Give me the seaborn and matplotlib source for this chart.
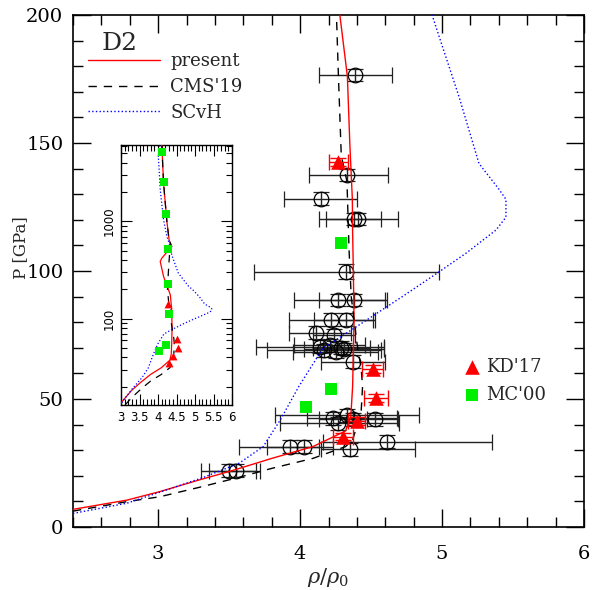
import matplotlib
matplotlib.use("Agg")
import matplotlib.pyplot as plt
import seaborn as sns
from matplotlib.ticker import MultipleLocator, FixedLocator, LogLocator, NullFormatter

# EOS curves: compression rho/rho0 vs pressure P [GPa]
present_rho = [2.4, 2.78, 3.01, 3.29, 3.52, 3.80, 4.09, 4.32, 4.357, 4.37, 4.38, 4.375,
               4.37, 4.368, 4.35, 4.333, 4.28, 4.15, 4.06, 4.10, 4.37, 4.30, 4.24, 4.15, 4.10]
present_p = [6.9, 10.5, 13.8, 18.4, 22.0, 26.8, 31.4, 37.5, 43.0, 55.0, 81.0, 100.0,
             115.0, 128.0, 150.0, 176.0, 200.0, 272.0, 388.0, 418.0, 553.0, 646.0, 1000.0, 2480.0, 6500.0]

cms_rho = [2.4, 2.78, 3.01, 3.29, 3.57, 3.80, 4.09, 4.32, 4.37, 4.43, 4.44, 4.43, 4.40,
           4.36, 4.345, 4.33, 4.29, 4.27, 4.256, 4.28, 4.31, 4.37, 4.30, 4.24, 4.15, 4.10]
cms_p = [6.2, 9.9, 11.8, 15.5, 19.4, 22.9, 26.8, 31.4, 34.0, 45.0, 55.0, 62.0, 72.0,
         90.0, 108.0, 135.0, 145.0, 176.0, 200.0, 300.0, 450.0, 553.0, 646.0, 1000.0, 2480.0, 6500.0]

scvh_rho = [2.4, 2.78, 3.06, 3.32, 3.57, 3.74, 3.86, 3.99, 4.16, 4.39, 4.72, 4.98, 5.17,
            5.38, 5.45, 5.45, 5.40, 5.26, 5.12, 4.98, 4.93, 4.83, 4.55, 4.37, 4.33, 4.24,
            4.15, 4.06, 4.01, 4.06]
scvh_p = [5.3, 9.3, 14.5, 19.4, 24.9, 31.4, 41.8, 54.8, 69.8, 78.0, 90.0, 99.7, 107.0,
          116.0, 121.0, 128.0, 132.0, 142.0, 168.0, 191.5, 200.0, 215.0, 294.0, 455.0, 553.0, 701.0,
          1040.0, 2120.0, 4660.0, 6500.0]

# open circles with error bars
circ_rho = [4.39, 4.33, 4.15, 4.38, 4.41, 4.32, 4.27, 4.38, 4.22, 4.32, 4.11, 4.24,
            4.14, 4.17, 4.21, 4.25, 4.29, 4.31, 4.37, 4.33, 4.27, 4.23, 4.37, 4.53,
            4.35, 4.615, 3.93, 4.03, 3.50, 3.55]
circ_p = [176.6, 137.5, 128.3, 120.3, 120.3, 99.7, 88.7, 88.7, 80.9, 80.9, 75.9, 75.0,
          70.5, 69.0, 71.0, 68.5, 70.0, 69.5, 64.6, 43.7, 40.5, 42.5, 42.0, 42.0,
          30.3, 33.3, 31.4, 31.4, 22.0, 22.0]
circ_xlo = [0.26, 0.27, 0.26, 0.25, 0.225, 0.645, 0.31, 0.25, 0.30, 0.22, 0.19, 0.15,
            0.45, 0.40, 0.25, 0.30, 0.20, 0.28, 0.22, 0.51, 0.41, 0.18, 0.24, 0.16,
            0.20, 0.455, 0.36, 0.26, 0.20, 0.19]
circ_xhi = [0.255, 0.29, 0.25, 0.31, 0.16, 0.66, 0.33, 0.23, 0.31, 0.19, 0.25, 0.15,
            0.45, 0.40, 0.25, 0.30, 0.20, 0.28, 0.23, 0.51, 0.43, 0.45, 0.10, 0.16,
            0.46, 0.735, 0.20, 0.20, 0.22, 0.14]
circ_perr = [2.5, 2.5, 2.5, 2.5, 2.5, 3.0, 2.5, 2.5, 2.5, 2.5, 2.5, 2.5,
             2.5, 2.5, 2.5, 2.5, 2.5, 2.5, 2.5, 2.5, 2.5, 2.5, 2.5, 2.5,
             2.5, 2.5, 2.5, 2.5, 2.5, 2.5]

# KD'17
kd_rho = [4.27, 4.51, 4.533, 4.40, 4.30]
kd_p = [142.7, 61.6, 50.3, 41.5, 35.3]
kd_xerr = [0.07, 0.075, 0.085, 0.06, 0.07]
kd_perr = [1.5, 1.5, 1.5, 1.5, 1.5]

# MC'00
mc_rho = [4.10, 4.15, 4.22, 4.27, 4.28, 4.29, 4.216, 4.04]
mc_p = [5120.0, 2540.0, 1200.0, 520.0, 227.0, 111.0, 53.9, 47.0]

sns.set_style("ticks")
plt.rcParams["font.family"] = ["DejaVu Serif"]
plt.rcParams["mathtext.fontset"] = "dejavuserif"

RED = "#ff0000"
BLUE = "#0000ff"
GREEN = "#00ee00"

fig = plt.figure(figsize=(5.94, 5.90), dpi=100)
ax = fig.add_axes([73 / 594, 63 / 590, 511 / 594, 512 / 590])


def draw_curves(a, lw=1.0):
    sns.lineplot(x=present_rho, y=present_p, sort=False, estimator=None, color=RED,
                 lw=lw, ax=a, zorder=3)
    sns.lineplot(x=cms_rho, y=cms_p, sort=False, estimator=None, color="black",
                 lw=lw, dashes=False, ax=a, zorder=3)
    a.lines[-1].set_dashes((6, 5))
    sns.lineplot(x=scvh_rho, y=scvh_p, sort=False, estimator=None, color=BLUE,
                 lw=lw, ax=a, zorder=3)
    a.lines[-1].set_linestyle(":")
    return a.lines[-3:]


h_present, h_cms, h_scvh = draw_curves(ax)

ax.errorbar(circ_rho, circ_p, xerr=[circ_xlo, circ_xhi], yerr=circ_perr, fmt="o",
            ms=10.5, mfc="none", mec="black", mew=0.9, ecolor="#222222", elinewidth=1.0,
            capsize=5.5, capthick=1.0, zorder=2)
ax.errorbar(kd_rho, kd_p, xerr=kd_xerr, yerr=kd_perr, fmt="none", ecolor=RED,
            elinewidth=1.0, capsize=5.5, capthick=1.0, zorder=4)
sns.scatterplot(x=kd_rho, y=kd_p, marker="^", color=RED, s=110, linewidth=0,
                ax=ax, zorder=5, label="KD'17")
sns.scatterplot(x=mc_rho, y=mc_p, marker="s", color=GREEN, s=80, linewidth=0,
                ax=ax, zorder=5, label="MC'00")
h_kd, h_mc = ax.collections[-2], ax.collections[-1]

ax.set_xlim(2.4, 6)
ax.set_ylim(0, 200)
ax.xaxis.set_major_locator(FixedLocator([3, 4, 5, 6]))
ax.xaxis.set_minor_locator(MultipleLocator(0.2))
ax.yaxis.set_major_locator(MultipleLocator(50))
ax.yaxis.set_minor_locator(MultipleLocator(10))
ax.tick_params(which="both", direction="in", top=True, right=True, width=1.0,
               labelsize=14, colors="black")
ax.tick_params(which="major", length=13)
ax.tick_params(which="minor", length=7)
ax.tick_params(axis="x", which="major", pad=13)
ax.tick_params(axis="y", which="major", pad=7)
for s in ax.spines.values():
    s.set_linewidth(1.2)
    s.set_color("black")
ax.set_xlabel(r"$\rho/\rho_0$", fontsize=15, labelpad=2)
ax.set_ylabel("P [GPa]", fontsize=12)
ax.yaxis.set_label_coords(-0.086, 0.545)

leg1 = ax.legend(handles=[h_present, h_cms, h_scvh], labels=["present", "CMS'19", "SCvH"],
                 loc="upper left", bbox_to_anchor=(15 / 511, 0.927), frameon=False,
                 fontsize=13, handlelength=4.0, handletextpad=0.55, labelspacing=0.42,
                 borderpad=0, borderaxespad=0)
ax.add_artist(leg1)
ax.text(0.092, 0.945, "D2", transform=ax.transAxes, fontsize=18, ha="center", va="center")
ax.legend(handles=[h_kd, h_mc], labels=["KD'17", "MC'00"], loc="upper left",
          bbox_to_anchor=(0.766, 0.33), frameon=False, fontsize=13, handlelength=0.8,
          handletextpad=0.4, labelspacing=0.55, borderpad=0, borderaxespad=0)

# inset: log pressure
axin = fig.add_axes([121 / 594, 185 / 590, 111 / 594, 260 / 590])
draw_curves(axin, lw=0.9)
sns.scatterplot(x=kd_rho, y=kd_p, marker="^", color=RED, s=32, linewidth=0,
                ax=axin, zorder=5)
sns.scatterplot(x=mc_rho, y=mc_p, marker="s", color=GREEN, s=30, linewidth=0,
                ax=axin, zorder=5)
axin.set_yscale("log")
axin.set_xlim(3, 6)
axin.set_ylim(13, 6100)
axin.set_xticks([3, 3.5, 4, 4.5, 5, 5.5, 6])
axin.set_xticklabels(["3", "3.5", "4", "4.5", "5", "5.5", "6"], family="DejaVu Sans",
                     fontsize=8.5)
axin.xaxis.set_minor_locator(MultipleLocator(0.1))
axin.set_yticks([100, 1000])
axin.set_yticklabels(["100", "1000"], family="DejaVu Sans", fontsize=8.5, rotation=90,
                     va="center")
axin.yaxis.set_minor_locator(LogLocator(base=10, subs=range(2, 10)))
axin.yaxis.set_minor_formatter(NullFormatter())
axin.tick_params(which="both", direction="in", top=True, right=True, width=0.8,
                 colors="black", pad=4)
axin.tick_params(which="major", length=8)
axin.tick_params(which="minor", length=4)
for s in axin.spines.values():
    s.set_linewidth(1.0)
    s.set_color("black")
axin.set_xlabel("")
axin.set_ylabel("")

fig.savefig("out.png", dpi=100)
